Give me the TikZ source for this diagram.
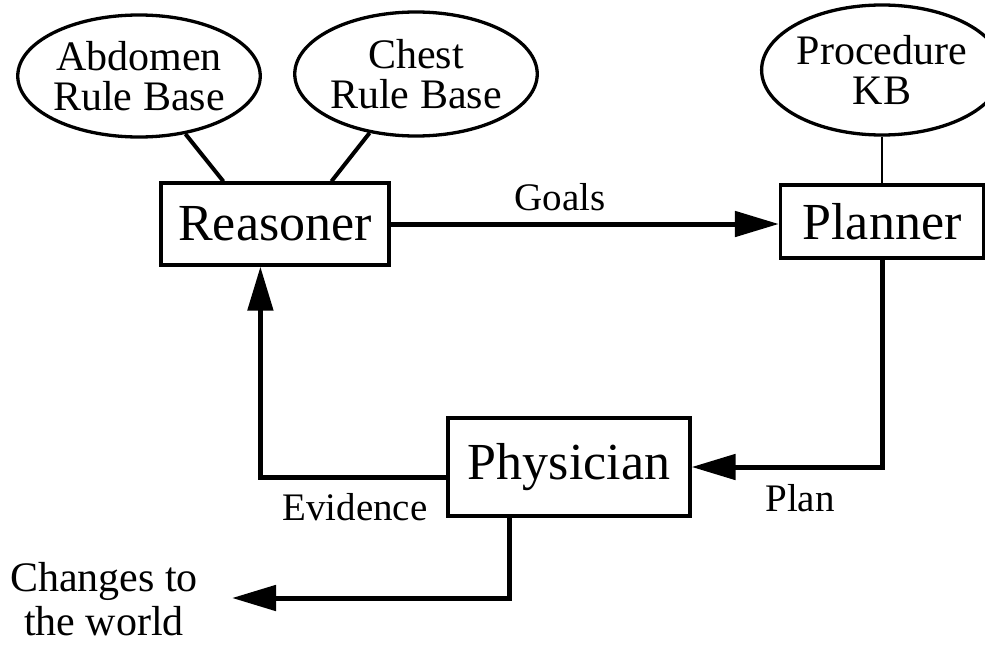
\documentclass[tikz,border=0pt]{standalone}
\usepackage{fontspec}
\setmainfont{Liberation Serif}
\usetikzlibrary{shapes.geometric,arrows.meta,calc}
\tikzset{
  kb/.style={ellipse,draw,line width=3.3pt,inner sep=0pt,align=center,
    font=\fontsize{42}{40}\selectfont},
  module/.style={rectangle,draw,line width=3.2pt,inner sep=0pt,
    font=\fontsize{52}{52}\selectfont},
  flow/.style={line width=5pt,-{Triangle[length=44pt,width=25pt]}},
  link/.style={line width=4pt},
  lbl/.style={inner sep=0pt,align=center,font=\fontsize{39}{44}\selectfont}
}
\begin{document}
\begin{tikzpicture}[x=1pt,y=-1pt]
\useasboundingbox (0,0) rectangle (985,645);
\node[kb,minimum width=212pt,minimum height=122pt] (abd) at (139,76) {Abdomen\\Rule Base};
\node[kb,minimum width=204pt,minimum height=124pt] (chest) at (416,74) {Chest\\Rule Base};
\node[kb,minimum width=206pt,minimum height=130pt] (proc) at (882,70) {Procedure\\KB};
\node[module,minimum width=228pt,minimum height=82pt] (reas) at (275,224) {Reasoner};
\node[module,minimum width=203pt,minimum height=73pt] (plan) at (882,221.5) {Planner};
\node[module,minimum width=242pt,minimum height=98pt] (phys) at (569,467) {Physician};
\coordinate (ra) at ($(reas.north west)+(64,0)$);
\coordinate (rb) at ($(reas.north west)+(172,0)$);
\coordinate (ev) at ($(reas.south west)+(101,0)$);
\coordinate (pe) at ($(phys.west)+(0,10)$);
\coordinate (pb) at ($(phys.south west)+(63,0)$);
\coordinate (world) at (232,598);
\draw[link] (abd) -- (ra);
\draw[link] (chest) -- (rb);
\draw[line width=2.8pt] (proc.south) -- (plan.north);
\draw[flow] (reas.east) -- (reas.east -| plan.west);
\draw[flow] (plan.south) |- (phys.east);
\draw[flow] (pe) -| (ev);
\draw[flow] (pb) |- (world);
\node[lbl] (goals) at (560,197) {Goals};
\node[lbl] (planl) at (800,498) {Plan};
\node[lbl] (evid) at (355,507) {Evidence};
\node[lbl,font=\fontsize{42}{44}\selectfont] (chg) at (104,599) {Changes to\\the world};
\end{tikzpicture}
\end{document}
